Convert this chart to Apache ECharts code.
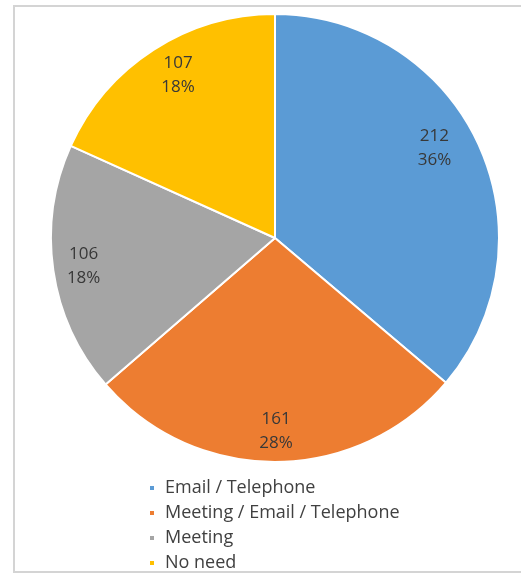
<!DOCTYPE html>
<html>
<head>
<meta charset="utf-8">
<script src="https://cdn.jsdelivr.net/npm/echarts@6/dist/echarts.min.js"></script>
<style>
  html, body { margin: 0; padding: 0; background: #ffffff; }
  #chart { width: 521px; height: 578px; }
</style>
</head>
<body>
<div id="chart"></div>
<script>
// Contact preference counts
const categories = ['Email / Telephone', 'Meeting / Email / Telephone', 'Meeting', 'No need'];
const counts = [212, 161, 106, 107];
const colors = ['#5B9BD5', '#ED7D31', '#A5A5A5', '#FFC000'];

const total = counts.reduce((a, b) => a + b, 0);

// Whole-number percentages that add up to 100 (largest remainder method)
function roundedPercents(values) {
  const sum = values.reduce((a, b) => a + b, 0);
  const raw = values.map(v => v / sum * 100);
  const out = raw.map(Math.floor);
  let left = 100 - out.reduce((a, b) => a + b, 0);
  const order = raw.map((r, i) => [r - Math.floor(r), i]).sort((a, b) => b[0] - a[0]);
  for (let k = 0; k < left; k++) out[order[k][1]] += 1;
  return out;
}
const percents = roundedPercents(counts);

const pieData = categories.map((name, i) => ({ name: name, value: counts[i] }));

const FONT = '"Open Sans", Lato, sans-serif';
const CX = 275, CY = 238, R = 224;

// small hand nudges for the label placement of two slices
const labelNudge = { 0: { dx: -16, dy: -8 }, 3: { dx: 8, dy: 0 } };

const chart = echarts.init(document.getElementById('chart'), null, { renderer: 'canvas' });

chart.setOption({
  animation: false,
  backgroundColor: '#ffffff',
  color: colors,
  graphic: [
    {
      type: 'rect',
      shape: { x: 14, y: 6, width: 520, height: 566 },
      style: { fill: 'none', stroke: '#d4d4d4', lineWidth: 2 },
      z: -10
    }
  ],
  legend: {
    orient: 'vertical',
    left: 143,
    top: 474,
    itemWidth: 6,
    itemHeight: 6,
    itemGap: 7,
    icon: 'rect',
    data: categories,
    textStyle: { fontFamily: FONT, fontSize: 18, lineHeight: 18, color: '#404040', padding: [0, 0, 0, 5] }
  },
  series: [
    {
      name: 'slices',
      type: 'pie',
      center: [CX, CY],
      radius: [0, R],
      startAngle: 90,
      clockwise: true,
      avoidLabelOverlap: false,
      label: { show: false },
      labelLine: { show: false },
      emphasis: { disabled: true },
      itemStyle: { borderColor: '#ffffff', borderWidth: 2 },
      data: pieData
    },
    {
      // transparent ring used only to place value/percent labels near the rim
      name: 'labels',
      type: 'pie',
      center: [CX, CY],
      radius: [R * 0.68, R * 1.02],
      startAngle: 90,
      clockwise: true,
      silent: true,
      avoidLabelOverlap: false,
      itemStyle: { color: 'transparent', borderWidth: 0 },
      emphasis: { disabled: true },
      labelLine: { show: false },
      label: {
        show: true,
        position: 'inside',
        fontFamily: FONT,
        fontSize: 17,
        lineHeight: 24,
        color: '#383838',
        formatter: (p) => p.value + '\n' + percents[p.dataIndex] + '%'
      },
      labelLayout: (p) => labelNudge[p.dataIndex] || {},
      data: pieData
    }
  ]
});
</script>
</body>
</html>
